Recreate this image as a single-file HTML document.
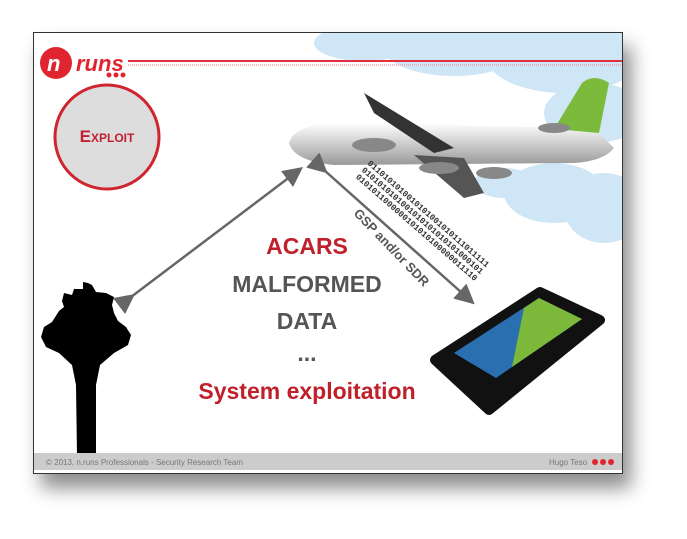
<!DOCTYPE html><html><head><style>
body{margin:0;width:687px;height:539px;background:#fff;position:relative;overflow:hidden;font-family:"Liberation Sans",sans-serif}
.slide{position:absolute;left:33px;top:32px;width:588px;height:440px;background:#fff;border:1px solid #333;box-shadow:8px 14px 18px rgba(0,0,0,.45);overflow:hidden}
.t{position:absolute;left:0;width:546px;text-align:center;font-weight:bold;font-size:23px;color:#555}
</style></head><body>
<div class="slide">
<svg width="588" height="440" style="position:absolute;left:0;top:0">
<defs><linearGradient id="pb" x1="0" y1="0" x2="0" y2="1"><stop offset="0" stop-color="#fff"/><stop offset="1" stop-color="#999"/></linearGradient>
<marker id="ah" markerWidth="8" markerHeight="8" refX="6" refY="4" orient="auto"><path d="M0,0L8,4L0,8z" fill="#666"/></marker></defs>
<g fill="#cfe6f6"><ellipse cx="330" cy="10" rx="50" ry="18"/><ellipse cx="420" cy="15" rx="70" ry="28"/><ellipse cx="530" cy="20" rx="80" ry="40"/><ellipse cx="560" cy="80" rx="50" ry="30"/><ellipse cx="520" cy="160" rx="50" ry="30"/><ellipse cx="570" cy="175" rx="40" ry="35"/><ellipse cx="470" cy="150" rx="30" ry="15"/></g>
<line x1="94" y1="28" x2="588" y2="28" stroke="#e03040" stroke-width="2"/>
<line x1="94" y1="32" x2="588" y2="32" stroke="#f0a0a8" stroke-width="1.5" stroke-dasharray="1 1"/>
<circle cx="22" cy="30" r="16" fill="#e02530"/>
<text x="13" y="38" font-size="22" font-weight="bold" font-style="italic" fill="#fff">n</text>
<text x="42" y="38" font-size="22" font-weight="bold" font-style="italic" fill="#e02530">runs</text>
<circle cx="75" cy="42" r="2.5" fill="#e02530"/><circle cx="82" cy="42" r="2.5" fill="#e02530"/><circle cx="89" cy="42" r="2.5" fill="#e02530"/>
<circle cx="73" cy="104" r="52" fill="#ddd" stroke="#d02530" stroke-width="3"/>
<path d="M255,110 Q260,92 300,90 L560,95 L580,115 Q570,128 540,130 L300,132 Q260,128 255,110z" fill="url(#pb)"/>
<path d="M520,96 L548,50 Q560,40 575,50 L565,100z" fill="#7cba3c"/>
<path d="M330,60 L420,115 L400,120 L340,80z" fill="#333"/>
<path d="M380,122 L430,165 L450,160 L430,125z" fill="#555"/>
<ellipse cx="340" cy="112" rx="22" ry="7" fill="#888"/><ellipse cx="405" cy="135" rx="20" ry="6" fill="#888"/>
<ellipse cx="460" cy="140" rx="18" ry="6" fill="#888"/><ellipse cx="520" cy="95" rx="16" ry="5" fill="#888"/>
<line x1="97" y1="264" x2="265" y2="137" stroke="#666" stroke-width="2.5" marker-end="url(#ah)" marker-start="url(#ah)"/>
<line x1="290" y1="137" x2="437" y2="268" stroke="#666" stroke-width="2.5" marker-end="url(#ah)" marker-start="url(#ah)"/>
<path d="M49,249 L49,256 L40,256 L38,262 L30,260 L28,268 L30,274 L25,278 L18,289 L10,294 L7,304 L12,314 L25,320 L38,332 L42,352 L43,422 L62,422 L62,352 L66,332 L80,320 L94,312 L97,302 L92,294 L84,288 L80,280 L78,272 L80,264 L72,260 L62,259 L58,252 L54,250z" fill="#000"/>
<polygon points="401,327 506,259 566,287 455,377" fill="#111" stroke="#111" stroke-width="10" stroke-linejoin="round"/>
<polygon points="420,320 505,265 548,286 462,345" fill="#2a6fb0"/>
<polygon points="490,275 505,265 548,286 478,334" fill="#7cb83a"/>
<rect x="0" y="420" width="588" height="17" fill="#ccc"/>
<text x="12" y="432" font-size="8" fill="#777">© 2013, n.runs Professionals - Security Research Team</text>
<text x="515" y="432" font-size="8" fill="#777">Hugo Teso</text>
<circle cx="561" cy="429" r="3" fill="#e02530"/><circle cx="569" cy="429" r="3" fill="#e02530"/><circle cx="577" cy="429" r="3" fill="#e02530"/>
<g transform="translate(333,131) rotate(41)" font-family="Liberation Mono" font-size="8.5" font-weight="bold" fill="#333">
<text x="0" y="0">0110101010010101001010111011111</text>
<text x="0" y="9">0101010101001010101010101000101</text>
<text x="0" y="18">0101011000000101010100000011110</text></g>
<text transform="translate(319,181) rotate(46)" font-size="13" font-weight="bold" fill="#555">GSP and/or SDR</text>
</svg>
<div style="position:absolute;left:21px;top:94px;width:104px;text-align:center;color:#c02030;font-weight:bold;font-size:17px;font-variant:small-caps">Exploit</div>
<div class="t" style="top:200px;color:#c0202a">ACARS</div>
<div class="t" style="top:238px">MALFORMED</div>
<div class="t" style="top:275px">DATA</div>
<div class="t" style="top:307px">...</div>
<div class="t" style="top:345px;color:#c0202a">System exploitation</div>
</div>
</body></html>
